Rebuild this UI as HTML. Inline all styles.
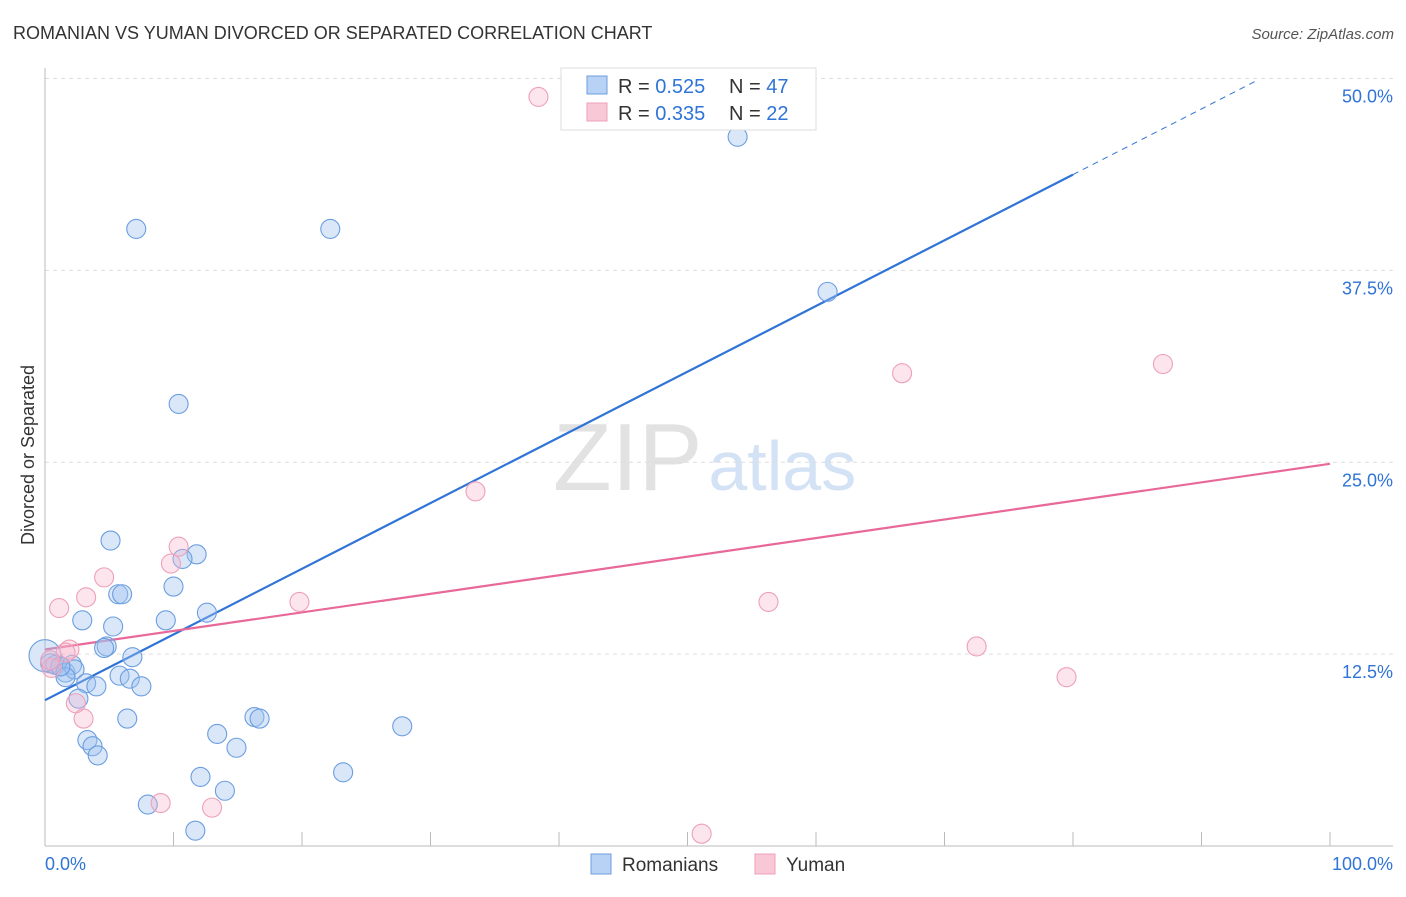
<!DOCTYPE html>
<html><head><meta charset="utf-8"><style>
body{margin:0;background:#fff;font-family:"Liberation Sans",sans-serif;}
svg text{font-family:"Liberation Sans",sans-serif;}
</style></head><body>
<svg id="chart" width="1406" height="892" viewBox="0 0 1406 892" xmlns="http://www.w3.org/2000/svg">
<text x="13" y="39" font-size="18" fill="#333">ROMANIAN VS YUMAN DIVORCED OR SEPARATED CORRELATION CHART</text>
<text x="1394" y="39" font-size="15" fill="#555" font-style="italic" text-anchor="end">Source: ZipAtlas.com</text>
<text x="553" y="490" font-size="96" fill="#e2e2e2" font-family="Liberation Serif">ZIP<tspan fill="#d3e2f5" font-family="Liberation Sans" font-size="70" dx="6">atlas</tspan></text>
<text transform="translate(34,455) rotate(-90)" font-size="18" fill="#333" text-anchor="middle">Divorced or Separated</text>
<g id="grid"></g>
<g id="axes"></g>
<g id="lines"></g>
<g id="points"></g>
<g>
<rect x="561" y="68" width="255" height="62" fill="#fff" stroke="#ddd"/>
<rect x="587" y="76" width="20" height="18" fill="#b8d2f5" stroke="#6b9ee0"/>
<text x="618" y="93" font-size="20" fill="#333">R = <tspan fill="#2f74d6">0.525</tspan></text>
<text x="729" y="93" font-size="20" fill="#333">N = <tspan fill="#2f74d6">47</tspan></text>
<rect x="587" y="103" width="20" height="18" fill="#f9c8d7" stroke="#eea0b8"/>
<text x="618" y="120" font-size="20" fill="#333">R = <tspan fill="#2f74d6">0.335</tspan></text>
<text x="729" y="120" font-size="20" fill="#333">N = <tspan fill="#2f74d6">22</tspan></text>
</g>
<g>
<rect x="591" y="854" width="20" height="20" fill="#b8d2f5" stroke="#6b9ee0"/>
<text x="622" y="871" font-size="19" fill="#333">Romanians</text>
<rect x="755" y="854" width="20" height="20" fill="#f9c8d7" stroke="#eea0b8"/>
<text x="786" y="871" font-size="19" fill="#333">Yuman</text>
</g>
</svg>
<script>
const blueX=[7.1,22.2,53.9,60.9,10.4,5.1,11.8,10.7,10.0,5.7,6.0,12.6,2.9,9.4,5.3,4.8,4.6,6.8,0.4,0.8,1.2,1.6,2.1,2.3,1.6,3.2,4.0,5.8,6.6,7.5,2.6,6.4,16.3,16.7,3.3,3.7,4.1,13.4,14.9,27.8,23.2,12.1,14.0,8.0,11.7,1.2];
const blueY=[40.2,40.2,46.2,36.1,28.8,19.9,19.0,18.7,16.9,16.4,16.4,15.2,14.7,14.7,14.3,13.0,12.9,12.3,11.9,11.8,11.7,11.3,11.8,11.5,11.0,10.6,10.4,11.1,10.9,10.4,9.6,8.3,8.4,8.3,6.9,6.5,5.9,7.3,6.4,7.8,4.8,4.5,3.6,2.7,1.0,11.7];
const pinkX=[38.4,87.0,66.7,33.5,10.4,9.8,4.6,3.2,1.1,19.8,56.3,1.9,1.6,0.5,72.5,79.5,2.4,3.0,9.0,13.0,51.1,0.4];
const pinkY=[48.8,31.4,30.8,23.1,19.5,18.4,17.5,16.2,15.5,15.9,15.9,12.8,12.6,11.6,13.0,11.0,9.3,8.3,2.8,2.5,0.8,12.1];
const yTicks=[12.5,25.0,37.5,50.0];
const xTickVals=[0,10,20,30,40,50,60,70,80,90,100];
const blueTrend=[9.5,0.428];
const pinkTrend=[12.8,0.121];
const ns="http://www.w3.org/2000/svg";
const X=v=>45+v*12.85, Y=v=>846-v*15.35;
function mk(tag,attrs,parent){const e=document.createElementNS(ns,tag);for(const k in attrs)e.setAttribute(k,attrs[k]);document.getElementById(parent).appendChild(e);return e;}
yTicks.forEach(t=>{
 const g=mk('line',{x1:45,x2:1393,y1:Y(t),y2:Y(t),stroke:'#ddd','stroke-dasharray':'4,4'},'grid');
 
 
 const l=mk('text',{x:1393,y:Y(t)+24,'font-size':18,fill:'#2f74d6','text-anchor':'end'},'grid');
 l.textContent=t.toFixed(1)+'%';
 
 
});
mk('line',{x1:45,x2:45,y1:68,y2:846,stroke:'#bbb'},'axes');
mk('line',{x1:45,x2:1393,y1:846,y2:846,stroke:'#bbb'},'axes');
xTickVals.forEach(t=>{const tk=mk('line',{x1:X(t),x2:X(t),y1:832,y2:846,stroke:'#bbb'},'axes');
 
 });
let a=mk('text',{x:45,y:870,'font-size':18,fill:'#2f74d6'},'axes');a.textContent='0.0%';


a=mk('text',{x:1393,y:870,'font-size':18,fill:'#2f74d6','text-anchor':'end'},'axes');a.textContent='100.0%';


for(let i=0;i<blueX.length;i++){const c=mk('circle',{cx:X(blueX[i]),cy:Y(blueY[i]),r:9.5,fill:'rgba(160,196,240,0.4)',stroke:'#6b9ee0','stroke-width':1.1},'points');
 
 }
const big=mk('circle',{cx:X(0),cy:Y(12.4),r:16,fill:'rgba(160,196,240,0.4)',stroke:'#6b9ee0','stroke-width':1.1},'points');


for(let i=0;i<pinkX.length;i++){const c=mk('circle',{cx:X(pinkX[i]),cy:Y(pinkY[i]),r:9.5,fill:'rgba(246,180,202,0.35)',stroke:'#eea0b8','stroke-width':1.1},'points');
 
 }
const bl=mk('line',{x1:X(0),y1:Y(blueTrend[0]),x2:X(80),y2:Y(blueTrend[0]+80*blueTrend[1]),stroke:'#2f74d6','stroke-width':2.2},'lines');


const bd=mk('line',{x1:X(80),y1:Y(blueTrend[0]+80*blueTrend[1]),x2:X(94.2),y2:Y(blueTrend[0]+94.2*blueTrend[1]),stroke:'#2f74d6','stroke-width':1,'stroke-dasharray':'6,5'},'lines');


const pl=mk('line',{x1:X(0),y1:Y(pinkTrend[0]),x2:X(100),y2:Y(pinkTrend[0]+100*pinkTrend[1]),stroke:'#e8689a','stroke-width':2.2},'lines');


</script>
</body></html>
